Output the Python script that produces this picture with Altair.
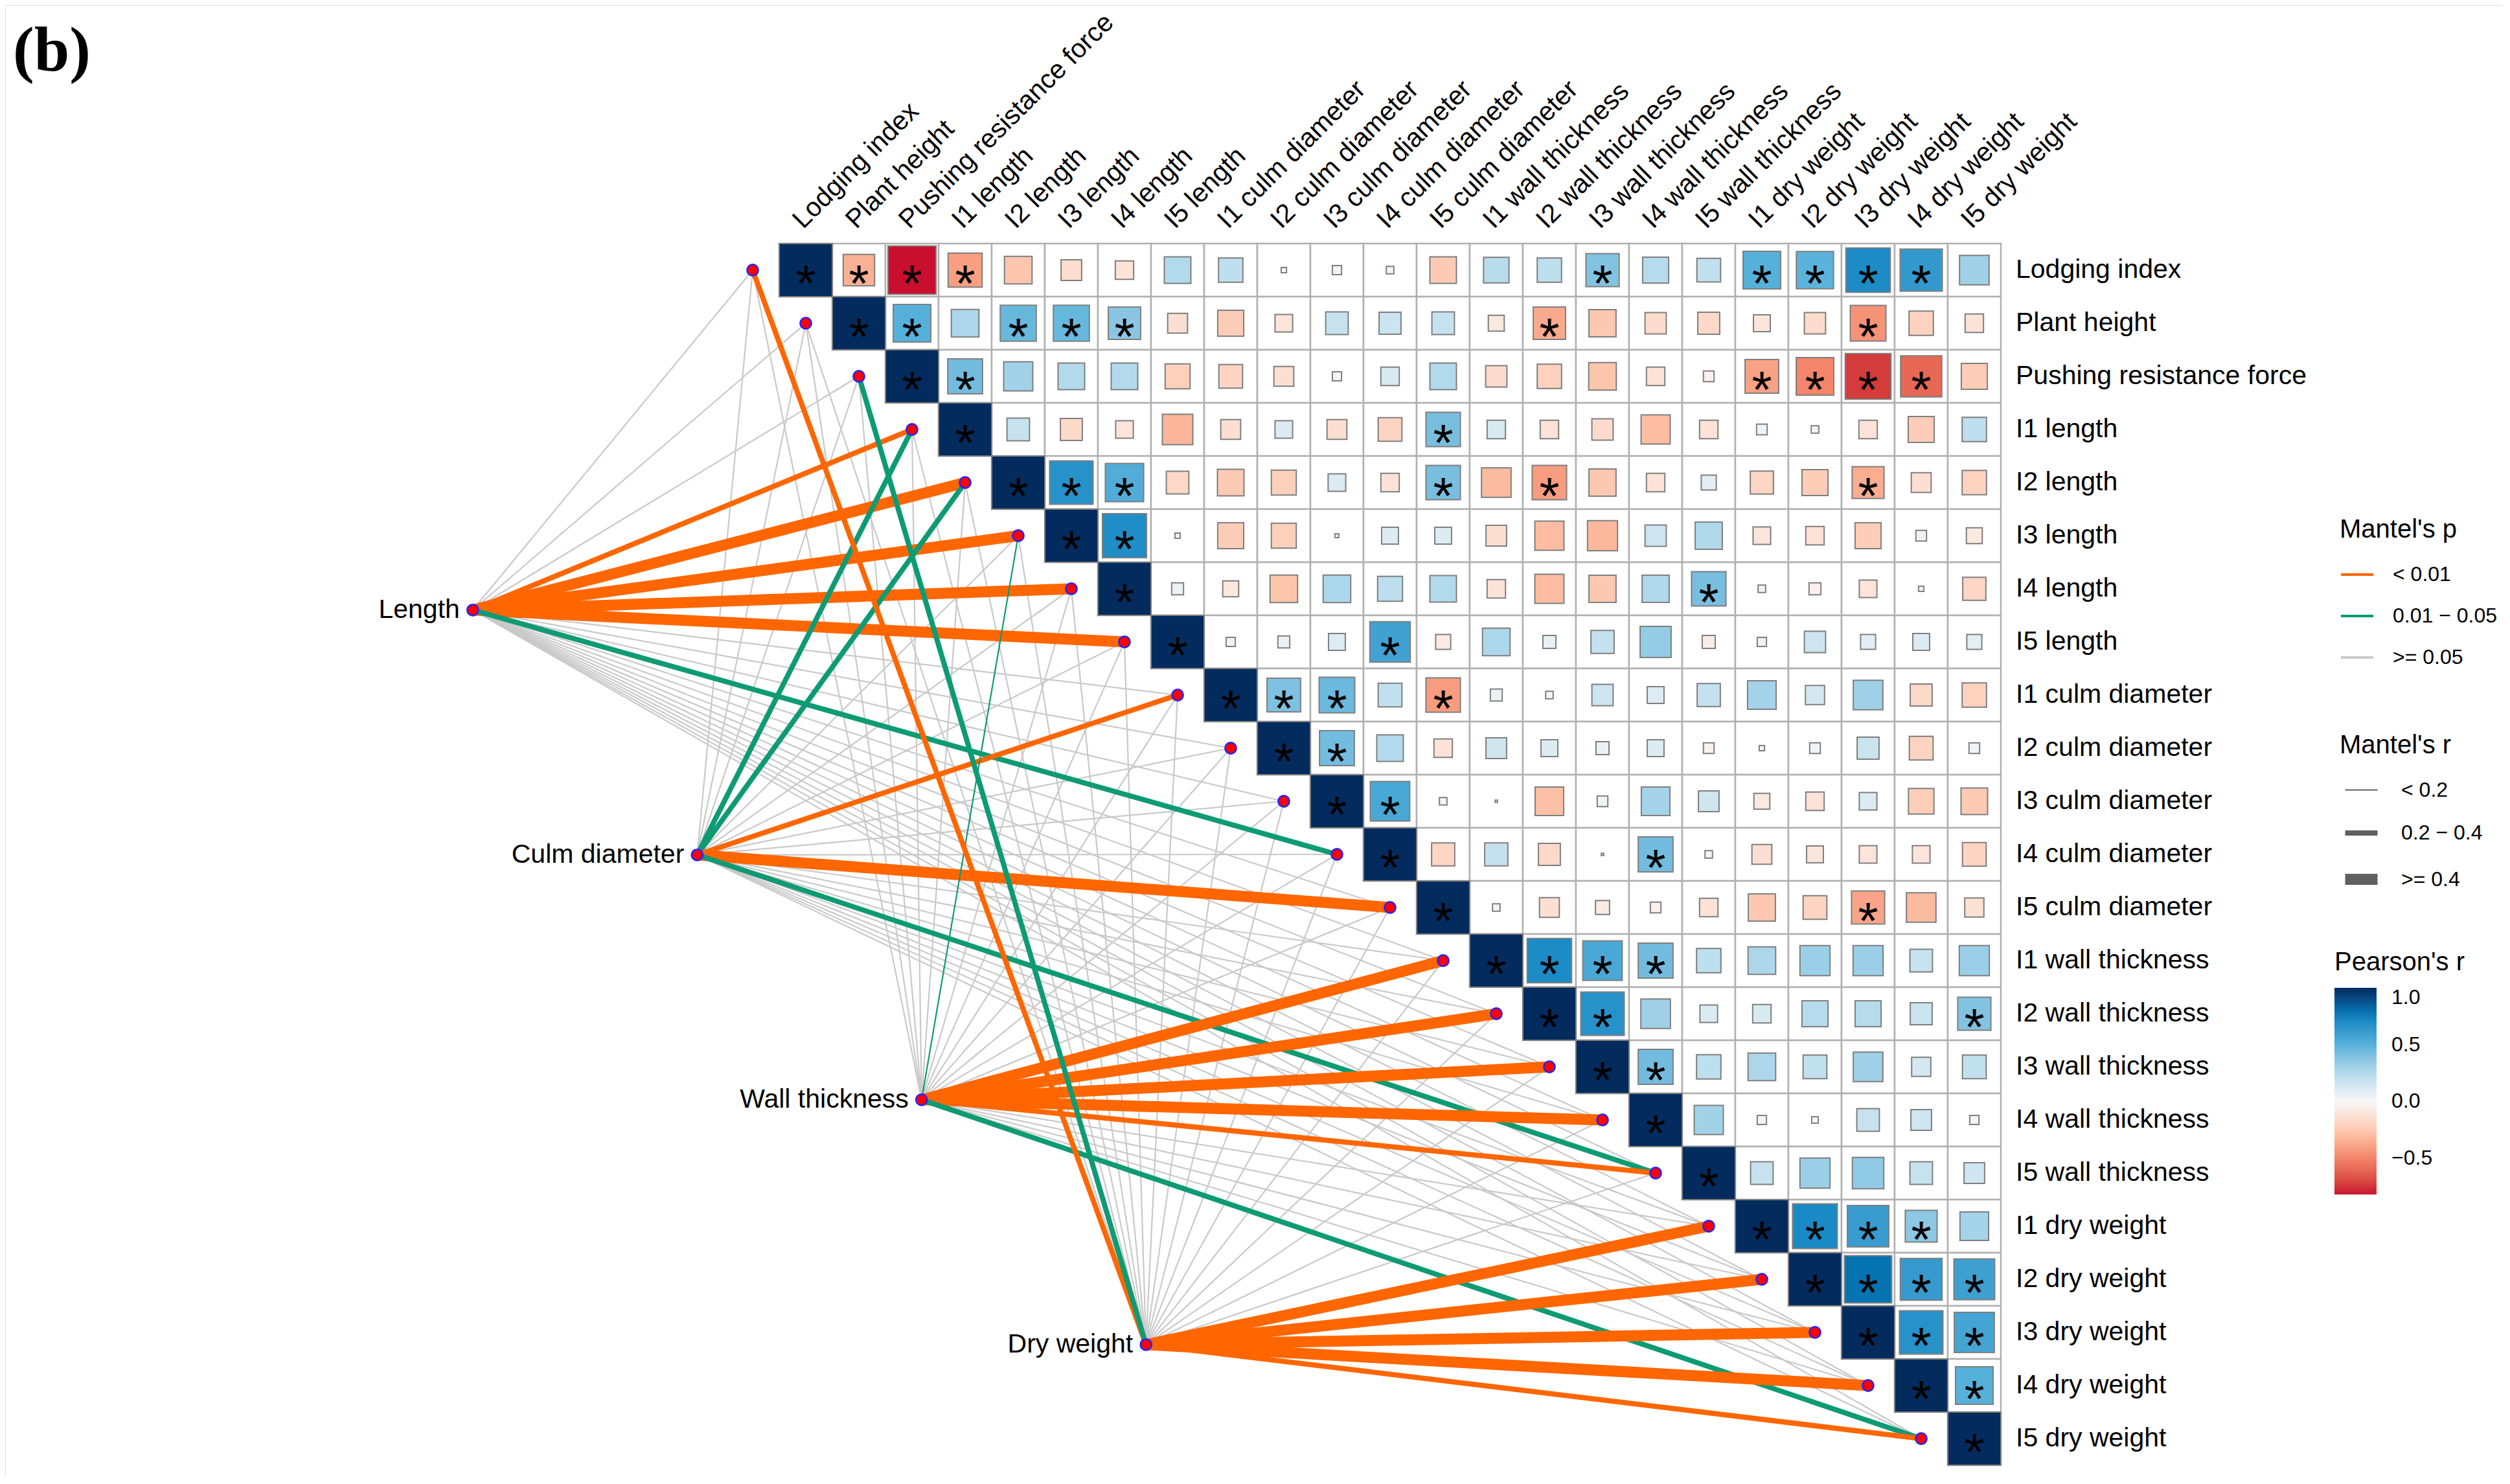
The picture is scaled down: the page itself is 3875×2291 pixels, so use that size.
import math
import altair as alt
import pandas as pd

# ---------------- data ----------------
variables = [
    "Lodging index", "Plant height", "Pushing resistance force",
    "I1 length", "I2 length", "I3 length", "I4 length", "I5 length",
    "I1 culm diameter", "I2 culm diameter", "I3 culm diameter", "I4 culm diameter", "I5 culm diameter",
    "I1 wall thickness", "I2 wall thickness", "I3 wall thickness", "I4 wall thickness", "I5 wall thickness",
    "I1 dry weight", "I2 dry weight", "I3 dry weight", "I4 dry weight", "I5 dry weight",
]

# Pearson's r, upper triangle: row i holds columns i+1 ... 22
r_upper = [
    [-0.35, -0.82, -0.41, -0.27, -0.15, -0.12, 0.25, 0.21, 0.01, 0.03, 0.02, -0.25, 0.23, 0.21, 0.39, 0.24, 0.20, 0.50, 0.49, 0.70, 0.63, 0.31],
    [0.50, 0.27, 0.46, 0.46, 0.37, -0.14, -0.24, -0.11, 0.18, 0.17, 0.18, -0.09, -0.37, -0.26, -0.16, -0.17, -0.10, -0.16, -0.45, -0.21, -0.12],
    [0.43, 0.30, 0.25, 0.25, -0.22, -0.20, -0.14, -0.03, 0.12, 0.25, -0.16, -0.21, -0.27, -0.12, -0.04, -0.40, -0.50, -0.74, -0.60, -0.24],
    [0.18, -0.17, -0.11, -0.33, -0.14, 0.11, -0.14, -0.20, 0.42, 0.12, -0.12, -0.16, -0.30, -0.12, 0.04, -0.02, -0.12, -0.24, 0.21],
    [0.67, 0.52, -0.18, -0.25, -0.22, 0.11, -0.12, 0.42, -0.31, -0.42, -0.26, -0.12, 0.08, -0.19, -0.24, -0.36, -0.14, -0.21],
    [0.69, 0.01, -0.24, -0.22, 0.005, 0.10, 0.10, -0.15, -0.30, -0.32, 0.16, 0.26, -0.11, -0.12, -0.24, 0.04, -0.09],
    [0.05, -0.09, -0.27, 0.27, 0.22, 0.25, -0.12, -0.30, -0.26, 0.26, 0.42, 0.02, -0.05, -0.11, 0.01, -0.19],
    [-0.03, 0.05, 0.10, 0.58, -0.08, 0.27, 0.06, 0.19, 0.34, -0.06, 0.03, 0.16, 0.08, 0.10, 0.08],
    [0.40, 0.45, 0.20, -0.42, 0.05, 0.02, 0.16, 0.10, 0.19, 0.29, 0.13, 0.31, -0.17, -0.21],
    [0.43, 0.25, -0.12, 0.15, 0.10, 0.06, 0.10, -0.04, 0.01, 0.04, 0.17, -0.20, 0.04],
    [0.55, 0.02, 0.002, -0.29, 0.04, 0.29, 0.15, -0.09, -0.12, 0.11, -0.23, -0.25],
    [-0.19, 0.19, -0.17, 0.002, 0.43, 0.02, -0.14, -0.10, -0.11, -0.11, -0.20],
    [0.02, -0.14, -0.07, -0.04, -0.12, -0.26, -0.20, -0.39, -0.31, -0.13],
    [0.70, 0.55, 0.43, 0.21, 0.27, 0.32, 0.32, 0.18, 0.32],
    [0.67, 0.31, 0.11, 0.12, 0.24, 0.24, 0.17, 0.39],
    [0.43, 0.21, 0.27, 0.20, 0.31, 0.13, 0.20],
    [0.30, 0.03, 0.015, 0.18, 0.15, 0.03],
    [0.18, 0.32, 0.35, 0.18, 0.15],
    [0.71, 0.61, 0.36, 0.29],
    [0.79, 0.62, 0.59],
    [0.67, 0.57],
    [0.50],
]

# columns (per row) of significant Pearson correlations (diagonal always marked)
sig_upper = [
    [1, 2, 3, 15, 18, 19, 20, 21],
    [2, 4, 5, 6, 14, 20],
    [3, 18, 19, 20, 21],
    [12],
    [5, 6, 12, 14, 20],
    [6],
    [17],
    [11],
    [9, 10, 12],
    [10],
    [11],
    [16],
    [20],
    [14, 15, 16],
    [15, 22],
    [16],
    [],
    [],
    [19, 20, 21],
    [20, 21, 22],
    [21, 22],
    [22],
]

groups = ["Length", "Culm diameter", "Wall thickness", "Dry weight"]
p_labels = ["< 0.01", "0.01 \u2212 0.05", ">= 0.05"]
r_labels = ["< 0.2", "0.2 \u2212 0.4", ">= 0.4"]
panel_label = "(b)"

# Mantel's p class (0: <0.01, 1: 0.01-0.05, 2: >=0.05) per group, per variable
mantel_p = {
    "Length":         [2, 2, 2, 0, 0, 0, 0, 0, 2, 2, 2, 1, 2, 2, 2, 2, 2, 2, 2, 2, 2, 2, 2],
    "Culm diameter":  [2, 2, 2, 1, 1, 2, 2, 2, 0, 2, 2, 2, 0, 2, 2, 2, 2, 1, 2, 2, 2, 2, 2],
    "Wall thickness": [2, 2, 2, 2, 2, 1, 2, 2, 2, 2, 2, 2, 2, 0, 0, 0, 0, 0, 2, 2, 2, 2, 1],
    "Dry weight":     [0, 2, 1, 2, 2, 2, 2, 2, 2, 2, 2, 2, 2, 2, 2, 2, 2, 2, 0, 0, 0, 0, 0],
}
# Mantel's r class (0: <0.2, 1: 0.2-0.4, 2: >=0.4)
mantel_r = {
    "Length":         [0, 0, 0, 1, 2, 2, 2, 2, 0, 0, 0, 1, 0, 0, 0, 0, 0, 0, 0, 0, 0, 0, 0],
    "Culm diameter":  [0, 0, 0, 1, 1, 0, 0, 0, 1, 0, 0, 0, 2, 0, 0, 0, 0, 1, 0, 0, 0, 0, 0],
    "Wall thickness": [0, 0, 0, 0, 0, 0, 0, 0, 0, 0, 0, 0, 0, 2, 2, 2, 2, 1, 0, 0, 0, 0, 1],
    "Dry weight":     [1, 0, 1, 0, 0, 0, 0, 0, 0, 0, 0, 0, 0, 0, 0, 0, 0, 0, 2, 2, 2, 2, 1],
}

# ---------------- layout (in cell units) ----------------
n = len(variables)
STEP = 82.0
W, H = 3855, 2270
X0, Y0 = 1236.0, 409.0           # pixel position of cell (0,0) center within plot area
x_dom = [-X0 / STEP, (W - X0) / STEP]
y_dom = [-Y0 / STEP, (H - Y0) / STEP]
node_start = (-6.27, 6.40)
node_step = (4.225, 4.61)

xs = alt.Scale(domain=x_dom, nice=False, zero=False)
ys = alt.Scale(domain=y_dom, nice=False, zero=False, reverse=True)

# ---------------- tables ----------------
cells, squares, stars = [], [], []
for i in range(n):
    for j in range(i, n):
        cells.append({"x0": j - 0.5, "x1": j + 0.5, "y0": i - 0.5, "y1": i + 0.5})
        r = 1.0 if i == j else r_upper[i][j - i - 1]
        s = math.sqrt(abs(r)) / 2.0
        squares.append({"r": r, "x0": j - s, "x1": j + s, "y0": i - s, "y1": i + s})
        if i == j or j in sig_upper[i]:
            stars.append({"x": j, "y": i})
cells_df = pd.DataFrame(cells)
sq_df = pd.DataFrame(squares)
star_df = pd.DataFrame(stars)

links, nodes = [], []
for g, name in enumerate(groups):
    nx = node_start[0] + g * node_step[0]
    ny = node_start[1] + g * node_step[1]
    nodes.append({"x": nx, "y": ny, "label": name})
    for k in range(n):
        links.append({"x": nx, "y": ny, "x2": k - 1, "y2": k,
                      "p": p_labels[mantel_p[name][k]], "rc": r_labels[mantel_r[name][k]]})
links_df = pd.DataFrame(links)
gray_df = links_df[links_df["p"] == p_labels[2]]
col_df = links_df[links_df["p"] != p_labels[2]]
nodes_df = pd.DataFrame(nodes)
ends_df = pd.DataFrame({"x": [k - 1 for k in range(n)], "y": list(range(n))})
rowlab_df = pd.DataFrame({"x": [n - 0.5] * n, "y": list(range(n)), "label": variables})
collab_df = pd.DataFrame({"x": [j - 0.05 for j in range(n)], "y": [-0.76] * n, "label": variables})

FONT = "Liberation Sans"

X = lambda f: alt.X(f, scale=xs, axis=None)
Y = lambda f: alt.Y(f, scale=ys, axis=None)

common_legend = dict(
    titleFont=FONT, titleFontSize=40, titleFontWeight="normal", titleColor="black", titleLimit=600,
    labelFont=FONT, labelFontSize=32, labelColor="black", labelLimit=600,
)

stroke_enc = alt.Stroke(
    "p:N",
    scale=alt.Scale(type="ordinal", domain=p_labels, range=["#FF6600", "#0E9B74", "#C9C9C9"]),
    legend=alt.Legend(
        title="Mantel's p", orient="none", legendX=3604, legendY=790,
        symbolType="stroke", symbolSize=2500, symbolStrokeWidth=4, symbolOpacity=1,
        labelOffset=28, rowPadding=21, titlePadding=22, **common_legend,
    ),
)
width_enc = alt.StrokeWidth(
    "rc:N",
    scale=alt.Scale(type="ordinal", domain=r_labels, range=[2.2, 8, 17]),
    legend=alt.Legend(
        title="Mantel's r", orient="none", legendX=3604, legendY=1123,
        symbolType="stroke", symbolSize=2500, symbolStrokeColor="#5F5F5F", symbolOpacity=1,
        labelOffset=28, rowPadding=21, titlePadding=22, **common_legend,
    ),
)

fill_scale = alt.Scale(
    domain=[-0.82, -0.5, -0.25, 0, 0.25, 0.5, 0.75, 1.0],
    range=["#C8102E", "#F4846A", "#FDCBB4", "#F8F8F8", "#B3DAEC", "#56B1DA", "#0282C1", "#032B5E"],
)
fill_enc = alt.Fill(
    "r:Q", scale=fill_scale,
    legend=alt.Legend(
        title="Pearson's r", orient="none", legendX=3596, legendY=1458, direction="vertical",
        gradientLength=319, gradientThickness=65, gradientStrokeWidth=0,
        values=[1.0, 0.5, 0.0, -0.5], format=".1f", labelOffset=23, titlePadding=19,
        **common_legend,
    ),
)

grid = alt.Chart(cells_df).mark_rect(fill="white", stroke="#B0B0B0", strokeWidth=2.5).encode(
    x=X("x0:Q"), x2="x1:Q", y=Y("y0:Q"), y2="y1:Q")
sq = alt.Chart(sq_df).mark_rect(stroke="#7F7F7F", strokeWidth=2).encode(
    x=X("x0:Q"), x2="x1:Q", y=Y("y0:Q"), y2="y1:Q", fill=fill_enc)
st = alt.Chart(star_df).mark_text(text="*", font=FONT, fontSize=80, baseline="middle", dy=24, color="black").encode(
    x=X("x:Q"), y=Y("y:Q"))
gray_lines = alt.Chart(gray_df).mark_rule(strokeCap="butt", opacity=1).encode(
    x=X("x:Q"), y=Y("y:Q"), x2="x2:Q", y2="y2:Q", stroke=stroke_enc, strokeWidth=width_enc)
col_lines = alt.Chart(col_df).mark_rule(strokeCap="butt", opacity=1).encode(
    x=X("x:Q"), y=Y("y:Q"), x2="x2:Q", y2="y2:Q", stroke=stroke_enc, strokeWidth=width_enc)
ends = alt.Chart(ends_df).mark_point(shape="circle", filled=True, fill="#FF0000", stroke="#2424FF",
                                     strokeWidth=2.5, size=300, opacity=1).encode(x=X("x:Q"), y=Y("y:Q"))
nd = alt.Chart(nodes_df).mark_point(shape="circle", filled=True, fill="#FF0000", stroke="#2424FF",
                                    strokeWidth=2.5, size=300, opacity=1).encode(x=X("x:Q"), y=Y("y:Q"))
nd_lab = alt.Chart(nodes_df).mark_text(align="right", baseline="middle", dx=-20, font=FONT, fontSize=41, color="black").encode(
    x=X("x:Q"), y=Y("y:Q"), text="label:N")
row_lab = alt.Chart(rowlab_df).mark_text(align="left", baseline="middle", dx=23, font=FONT, fontSize=41, color="black").encode(
    x=X("x:Q"), y=Y("y:Q"), text="label:N")
col_lab = alt.Chart(collab_df).mark_text(align="left", baseline="alphabetic", angle=315, font=FONT, fontSize=41, color="black").encode(
    x=X("x:Q"), y=Y("y:Q"), text="label:N")
# panel label "(b)" pinned to the top-left corner of the figure
panel = alt.Chart(pd.DataFrame({"t": [panel_label]})).mark_text(
    align="left", baseline="alphabetic", font="Liberation Serif", fontSize=98, fontWeight="bold",
    color="black", dx=12, dy=101).encode(x=alt.value(0), y=alt.value(0), text="t:N")

chart = alt.layer(grid, sq, st, gray_lines, col_lines, ends, nd, nd_lab, row_lab, col_lab, panel).properties(
    width=W, height=H, padding=0,
    autosize=alt.AutoSizeParams(type="none"),
).configure_view(stroke=None).configure(background="white")

chart.save("out.html", embed_options={"renderer": "svg", "actions": False})
